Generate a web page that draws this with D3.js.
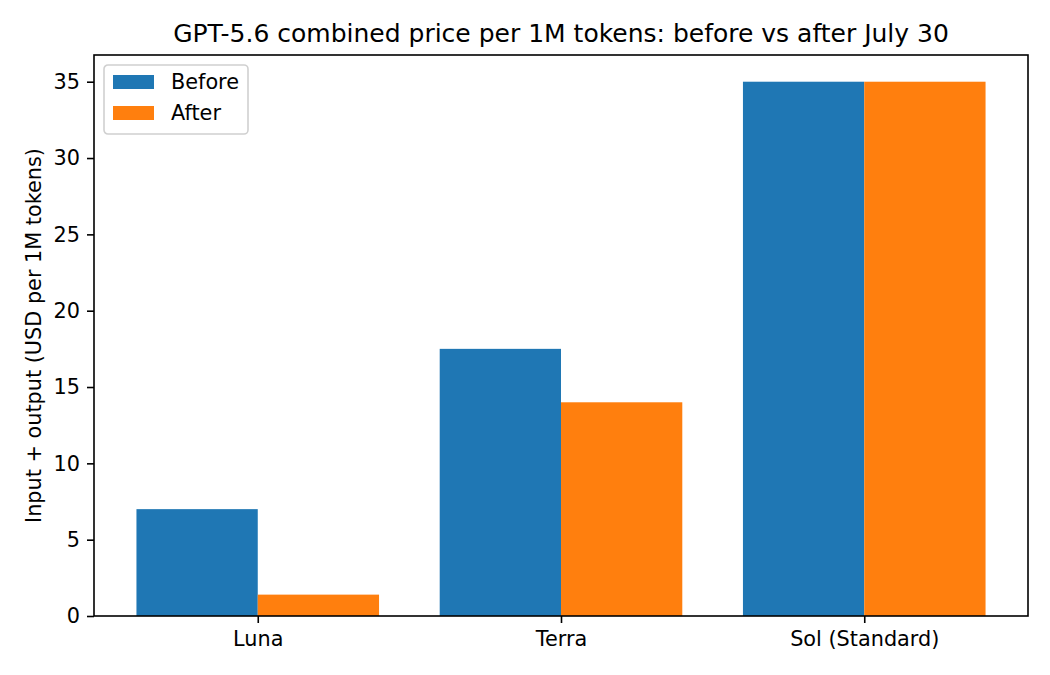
<!DOCTYPE html>
<html>
<head>
<meta charset="utf-8">
<script src="https://cdn.jsdelivr.net/npm/d3@7"></script>
<style>
	body { margin: 0; background: #fff; }
	text { font-family: "DejaVu Sans", sans-serif; fill: #000; }
</style>
</head>
<body>
<svg id="chart" width="1050" height="675"></svg>
<script>
// chart data
var categories = ["Luna", "Terra", "Sol (Standard)"];
var seriesNames = ["Before", "After"];
var beforeValues = [7.0, 17.5, 35.0];
var afterValues = [1.4, 14.0, 35.0];
var yTicks = [0, 5, 10, 15, 20, 25, 30, 35];
var colors = ["#1f77b4", "#ff7f0e"];

var svg = d3.select("#chart");
var margin = { left: 94, right: 1028, top: 55, bottom: 616 };
var barWidth = 0.4;

// matplotlib style x: category index with 5% margins
var x = d3.scaleLinear()
			.domain([-0.54, 2.54])
			.range([margin.left, margin.right]);
var y = d3.scaleLinear()
			.domain([0, 36.75])
			.range([margin.bottom, margin.top]);

var series = [beforeValues, afterValues];
series.forEach(function(vals, s)
{
	svg.append("g").selectAll("rect").data(vals).enter()
		.append("rect")
			.attr("x", function(d, i) { return x(i - barWidth + s * barWidth); })
			.attr("width", function() { return x(barWidth) - x(0); })
			.attr("y", function(d) { return y(d); })
			.attr("height", function(d) { return y(0) - y(d); })
			.style("fill", colors[s]);
});

// axes
var yAxis = d3.axisLeft(y).tickValues(yTicks).tickSize(7).tickPadding(7);
var gy = svg.append("g")
			.attr("transform", "translate(" + margin.left + ",0)")
			.call(yAxis);
var xAxis = d3.axisBottom(x).tickValues([0, 1, 2])
			.tickFormat(function(d) { return categories[d]; })
			.tickSize(7).tickPadding(8);
var gx = svg.append("g")
			.attr("transform", "translate(0," + margin.bottom + ")")
			.call(xAxis);
[gx, gy].forEach(function(g)
{
	g.select(".domain").remove();
	g.selectAll("line").style("stroke", "#000").style("stroke-width", 1.6);
	g.selectAll("text").style("font-size", "20.8px").style("font-family", "DejaVu Sans");
});

// frame
svg.append("rect")
	.attr("x", margin.left).attr("y", margin.top)
	.attr("width", margin.right - margin.left)
	.attr("height", margin.bottom - margin.top)
	.style("fill", "none").style("stroke", "#000").style("stroke-width", 1.6);

// title and y label
svg.append("text")
	.attr("x", (margin.left + margin.right) / 2).attr("y", 42)
	.attr("text-anchor", "middle")
	.style("font-size", "25px")
	.text("GPT-5.6 combined price per 1M tokens: before vs after July 30");
svg.append("text")
	.attr("transform", "translate(41," + (margin.top + margin.bottom) / 2 + ") rotate(-90)")
	.attr("text-anchor", "middle")
	.style("font-size", "20.8px")
	.text("Input + output (USD per 1M tokens)");

// legend
var legend = svg.append("g").attr("transform", "translate(104,65)");
legend.append("rect")
	.attr("width", 144).attr("height", 69).attr("rx", 4)
	.style("fill", "#fff").style("fill-opacity", 0.8)
	.style("stroke", "#d0d0d0").style("stroke-width", 1.6);
seriesNames.forEach(function(name, i)
{
	legend.append("rect")
		.attr("x", 9).attr("y", 10 + i * 31)
		.attr("width", 41).attr("height", 14)
		.style("fill", colors[i]);
	legend.append("text")
		.attr("x", 67).attr("y", 17 + i * 31)
		.attr("dy", "0.35em")
		.style("font-size", "20.8px")
		.text(name);
});
</script>
</body>
</html>
